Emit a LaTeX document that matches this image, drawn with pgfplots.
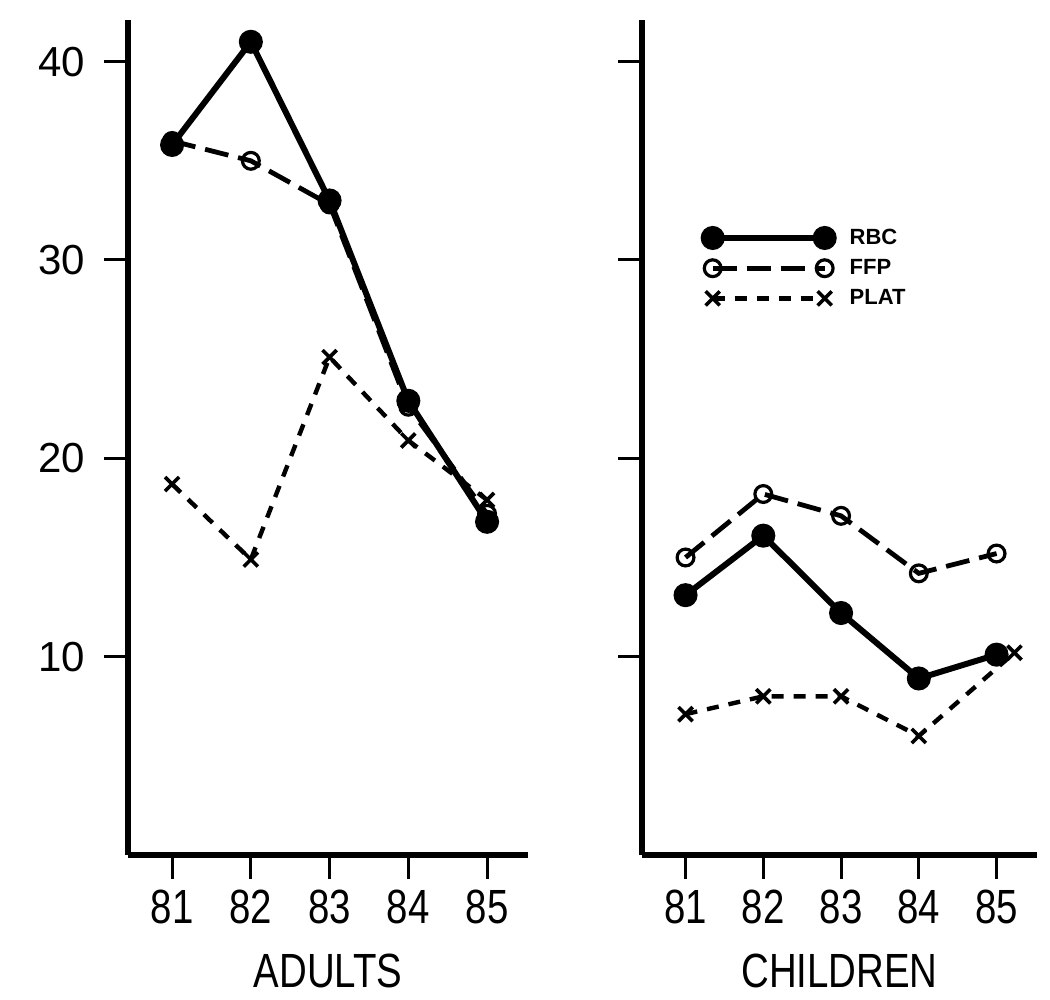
\documentclass[border=0pt]{standalone}
\usepackage{pgfplots}
\pgfplotsset{compat=1.18}
\usepackage{fontspec}
\setmainfont{Liberation Sans}
\newfontfamily\condfont{Liberation Sans}[FakeStretch=0.8]
\begin{document}
\begin{tikzpicture}
\path (0,0) rectangle (525pt,500pt);
\pgfplotsset{
  panel/.style={
    scale only axis,
    width=200pt, height=417.5pt,
    anchor=south west,
    xmin=80.44, xmax=85.52,
    ymin=0, ymax=42.1,
    axis x line*=bottom, axis y line*=left,
    axis line style={line width=2.8pt, -},
    tick style={line width=1.5pt, black},
    xtick={81,82,83,84,85},
    xticklabels={81,82,83,84,85},
    ytick={10,20,30,40},
    tick align=outside,
    major tick length=12pt,
    xticklabel style={font=\condfont\fontsize{24}{26}\selectfont, yshift=-2pt},
    xlabel style={font=\condfont\fontsize{24}{26}\selectfont, yshift=-8pt},
    clip=false,
  },
  rbc/.style={black, line width=3pt, mark=*, mark size=4.5pt, mark options={solid, fill=black}},
  ffp/.style={black, line width=2.4pt, dash pattern=on 12pt off 5pt, mark=o, mark size=4.2pt, mark options={solid, line width=1.6pt, fill=white}},
  plat/.style={black, line width=2.2pt, dash pattern=on 6pt off 5pt, mark=x, mark size=5pt, mark options={solid, line width=1.8pt}},
}
\begin{axis}[panel, at={(64pt,72.5pt)},
  yticklabels={10,20,30,40},
  yticklabel style={font=\fontsize{21}{24}\selectfont, xshift=-6pt},
  xlabel={ADULTS}]
\addplot[plat] coordinates {(81,18.7) (82,14.9) (83,25.1) (84,20.9) (85,17.9)};
\addplot[ffp] coordinates {(81,36) (82,35.0) (83,32.8) (84,22.6) (85,17.2)};
\addplot[rbc] coordinates {(81,35.8) (82,41.0) (83,33.0) (84,22.9) (85,16.8)};
\end{axis}
\begin{axis}[panel, at={(321pt,72.5pt)}, width=197.5pt,
  yticklabels={},
  xlabel={CHILDREN},
  legend style={draw=none, fill=none, at={(0.14,0.76)}, anchor=north west,
    font=\bfseries\fontsize{11}{12}\selectfont, row sep=2pt},
  legend cell align=left,
  legend image code/.code={\draw[mark repeat=2, mark phase=1, #1] plot coordinates {(0pt,0pt) (28pt,0pt) (56pt,0pt)};},
  reverse legend]
\addplot[plat] coordinates {(81,7.1) (82,8.0) (83,8.0) (84,6.0) (85.23,10.2)};
\addlegendentry{\hspace{6pt}PLAT}
\addplot[ffp] coordinates {(81,15.0) (82,18.2) (83,17.1) (84,14.2) (85,15.2)};
\addlegendentry{\hspace{6pt}FFP}
\addplot[rbc] coordinates {(81,13.1) (82,16.1) (83,12.2) (84,8.9) (85,10.1)};
\addlegendentry{\hspace{6pt}RBC}
\end{axis}
\end{tikzpicture}
\end{document}
